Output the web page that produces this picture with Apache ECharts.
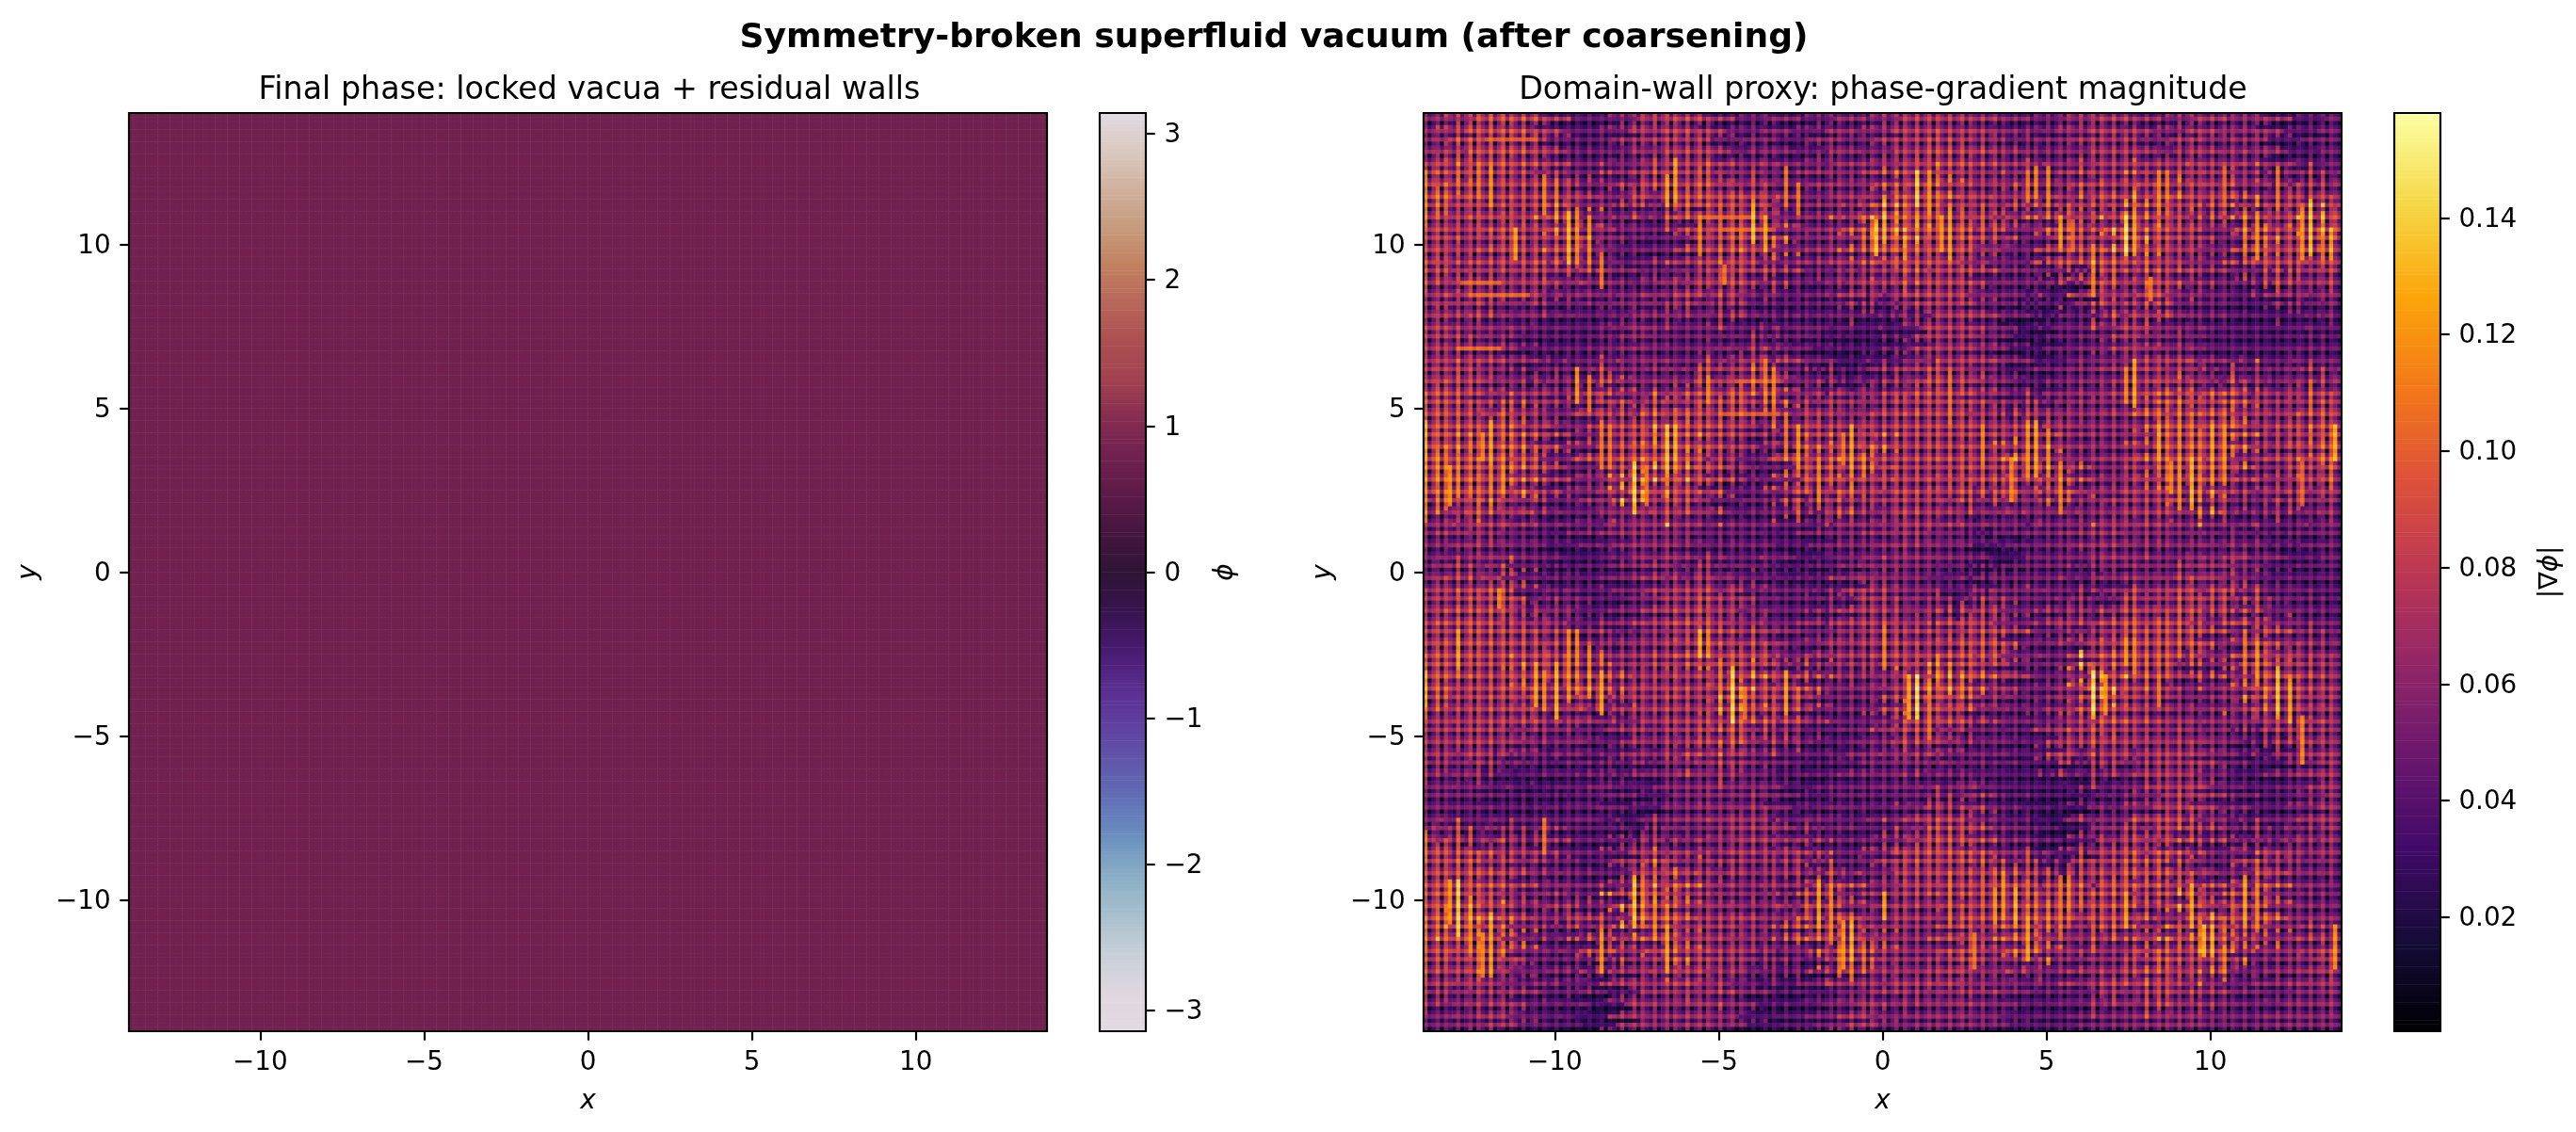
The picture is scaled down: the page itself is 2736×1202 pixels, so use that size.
<!DOCTYPE html>
<html>
<head>
<meta charset="utf-8">
<style>html,body{margin:0;padding:0;background:#fff}#chart{width:2736px;height:1202px}</style>
<script src="https://cdn.jsdelivr.net/npm/echarts@6/dist/echarts.min.js"></script>
</head>
<body>
<div id="chart"></div>
<script>
// Lattice: 224 cells per side, 8 cells per unit of x or y.
const cellCount = 224;
const cellsPerUnit = 8;

// Tick labels
const positionTicks = [-10, -5, 0, 5, 10];
const phaseTicks = [-3, -2, -1, 0, 1, 2, 3];
const gradientTicks = [0.02, 0.04, 0.06, 0.08, 0.10, 0.12, 0.14];

// Colour scale ranges
const phaseRange = [-Math.PI, Math.PI];
const gradientRange = [0.0004, 0.158];

const twilightStops = ['#e2d9e2','#dfd6e0','#c8d0d8','#a8c0ce','#8bb0c6','#6d93c0','#6172b8','#6158ab','#60409f','#5a2d90','#481a6f','#38134f','#2f1436','#44163f','#5c1a48','#70204f','#862b52','#a0424f','#ab4f51','#b8655a','#c1805f','#c79b7c','#cfb09c','#dac9bf','#e2d9e2'];
const infernoStops = ['#000004','#160b39','#420a68','#6a176e','#932667','#bc3754','#dd513a','#f37819','#fca50a','#f6d746','#fcffa4'];

// Final phase: almost uniform, with a faint weave within each unit cell.
const phaseBase = 0.80;
const phaseColWeave = [0.004, -0.002, 0.001, 0.003, -0.003, 0.002, 0.001, -0.004];
const phaseRowWeave = [0.001, 0.003, -0.003, 0.001, 0.003, -0.003, 0.002, -0.002];

// Strength of the x and y derivative inside one unit cell, by column and by row (from the top).
const colWeave = [1.00, 0.14, 0.60, 0.95, 0.08, 0.92, 0.58, 0.30];
const rowWeave = [0.60, 0.92, 0.10, 0.55, 0.95, 0.30, 0.90, 0.14];

// Wall outlines are jagged, so the edge of each unit cell steps by a few cells along the lattice.
const rowEdgeJog = [-4, 1, 3, -2, 5, -1, 2, -5, 4, 0, -3, 2, -2];
const colEdgeJog = [3, -4, 1, 5, -2, -5, 2, 4, -1, -3, 0];

// Gradient level of each unit cell in thousandths, rows from y=14 down, columns from x=-14.
const wallLevels = [
[50,70,72,62,36,36,58,66,58,36,48,34,52,42, 62,62,60,50,38,50,62,56,42,60,48,55,30,44],
[62,74,72,62,44,42,50,62,64,52,48,42,55,48, 62,70,68,58,50,48,60,62,58,60,58,52,34,44],
[80,72,66,68,62,46,66,72,76,70,62,44,56,52, 76,82,62,56,70,55,72,62,82,66,74,52,64,64],
[66,62,72,62,85,52,44,42,70,76,84,46,50,78, 92,78,76,70,46,78,60,90,72,64,46,84,66,92],
[70,60,68,66,72,50,36,44,60,70,66,46,56,60, 76,68,70,50,40,66,72,76,66,60,46,70,68,68],
[56,68,58,60,45,50,46,58,64,62,45,36,42,60, 54,66,64,42,44,30,72,56,70,48,42,34,54,50],
[62,52,46,40,36,38,52,42,44,40,34,42,38,32, 32,62,60,44,24,40,44,64,48,40,36,32,34,36],
[60,64,54,34,40,44,50,44,44,58,62,42,28,30, 46,60,60,48,28,40,46,58,62,52,38,38,42,44],
[72,66,50,58,50,72,48,56,72,72,80,46,58,48, 62,72,68,50,36,48,52,62,78,62,76,58,54,66],
[72,70,76,60,44,64,68,78,70,64,52,66,62,60, 66,66,68,60,66,58,54,54,80,78,82,60,66,74],
[84,76,82,72,42,70,74,88,72,58,38,80,66,84, 64,68,70,62,86,56,48,56,78,82,84,50,66,80],
[80,76,84,62,42,58,92,70,70,36,48,72,76,62, 68,62,72,70,60,76,50,62,64,86,62,54,64,60],
[52,62,56,42,38,50,56,56,50,44,40,36,52,48, 60,60,48,44,46,46,54,60,54,50,42,38,42,46],
[44,52,46,42,30,38,52,52,40,40,44,30,42,46, 52,48,44,26,40,46,56,50,46,48,56,48,32,42],
[60,66,72,36,42,34,44,60,62,60,38,40,34,62, 50,46,34,48,44,42,36,52,58,66,68,44,38,36],
[64,72,70,58,50,36,48,62,70,60,50,42,54,62, 64,56,68,64,42,58,58,70,72,72,50,70,46,44],
[72,70,68,68,64,52,56,60,74,70,66,42,58,60, 68,62,72,72,42,42,66,78,74,74,46,76,60,56],
[76,66,70,84,84,76,62,68,62,88,68,74,46,48, 60,88,80,58,40,52,92,70,60,44,54,84,70,62],
[60,64,66,58,56,42,60,62,60,76,68,54,40,42, 70,70,62,44,42,56,74,64,56,52,50,60,66,56],
[58,62,58,42,46,36,54,50,68,60,46,38,34,50, 50,60,40,44,34,64,62,62,62,62,46,30,50,60],
[46,44,34,30,36,46,34,48,50,48,44,30,40,42, 44,40,48,36,32,30,36,42,60,60,40,34,40,56],
[44,40,38,40,38,42,28,44,52,58,56,38,46,36, 44,62,66,44,34,24,50,46,66,68,50,34,42,58],
[68,72,58,60,40,34,58,60,48,62,58,62,40,42, 66,72,72,52,42,30,62,66,74,46,40,62,56,54],
[70,74,66,44,46,38,66,82,60,50,54,44,72,46, 62,66,66,74,68,66,70,76,64,72,50,76,48,44],
[78,90,66,52,62,46,88,76,56,62,50,74,76,50, 60,56,72,70,80,78,70,76,52,88,72,80,50,52],
[70,76,82,44,38,70,52,82,62,60,56,46,80,78, 54,50,70,56,82,54,52,54,76,66,82,52,52,66],
[60,62,56,40,50,34,60,56,66,50,38,30,44,56, 58,60,62,50,44,42,60,66,70,62,50,38,50,56],
[44,48,58,38,34,24,56,50,56,50,28,34,44,60, 44,50,52,46,34,36,44,48,52,52,44,44,50,48]
];

// Bright vertical wall streaks: column, first row, last row, level in thousandths.
const verticalWalls = [
[35,24,36,130],[37,23,36,115],[40,25,36,115],[29,15,24,115],[32,16,26,110],[16,13,22,120],[13,12,20,110],[22,28,35,125],
[59,15,22,125],[61,11,21,125],[80,23,31,135],[83,25,33,125],[67,25,34,115],[110,26,34,135],[91,17,24,110],[88,13,22,110],
[0,14,24,115],[43,34,42,110],[73,37,41,110],[37,62,70,120],[40,64,72,110],[83,60,70,110],[85,62,71,115],[69,64,70,115],
[43,75,86,110],[45,76,86,110],[59,76,87,135],[61,76,84,130],[51,85,95,140],[54,86,95,110],[16,75,85,125],[14,78,84,115],
[0,75,83,130],[19,86,92,120],[6,86,95,120],[8,87,93,115],[91,76,85,120],[88,73,82,110],[104,76,86,125],[102,78,85,110],[96,84,94,115],
[120,14,22,140],[123,14,24,120],[126,25,33,120],[128,23,35,125],[112,25,31,130],[147,14,21,110],[149,13,20,115],[152,13,22,115],
[155,25,32,125],[158,26,33,105],[171,25,34,145],[173,25,34,125],[179,14,24,115],[181,14,20,110],[195,13,21,105],[200,24,34,110],
[203,25,35,120],[208,13,23,110],[214,23,35,120],[216,22,34,135],[219,24,35,110],[163,32,44,115],[177,40,45,110],
[147,76,88,120],[149,75,88,125],[152,77,88,115],[173,60,71,125],[171,62,70,115],[179,76,84,125],[192,76,84,125],[195,76,86,120],
[187,84,95,130],[184,84,96,115],[182,85,92,115],[222,76,84,130],[216,65,72,105],[155,85,96,115],[143,84,94,115],[128,63,75,110],[136,76,85,115],[214,85,95,105],
[27,134,144,125],[29,136,145,115],[32,135,147,130],[43,136,146,125],[75,135,148,140],[72,133,146,110],[78,140,147,110],[88,136,146,125],
[67,126,132,130],[69,126,132,115],[18,116,120,115],[8,126,135,125],[0,136,144,130],[35,126,136,115],[37,126,133,115],[40,130,140,115],
[8,187,200,140],[6,187,197,120],[11,192,204,115],[16,195,210,125],[14,200,210,115],[51,186,197,135],[53,186,194,110],[43,199,209,120],
[56,192,200,115],[59,198,208,125],[96,187,198,125],[99,188,200,115],[102,197,208,120],[104,197,206,130],[0,175,182,110],[29,172,180,110],
[120,137,147,145],[118,137,147,125],[123,142,152,110],[141,185,196,120],[144,189,197,130],[139,189,197,120],[147,196,206,125],[163,136,146,145],
[166,137,146,120],[171,128,134,120],[173,128,136,115],[187,188,197,125],[190,198,205,130],[192,198,205,130],[208,135,146,135],[211,138,148,125],
[214,147,158,115],[200,126,136,110],[203,129,138,120],[200,186,197,125],[203,188,198,115],[171,190,198,125],[155,186,196,110],[157,186,194,115],
[179,138,144,110],[112,125,135,115],[112,190,196,125],[222,198,208,120],[134,200,208,110],[128,185,197,110]
];

// Bright horizontal wall runs: row, first column, last column, level in thousandths.
const horizontalWalls = [
[41,9,18,105],[44,11,25,105],[57,8,18,105],[25,68,80,105],[28,72,84,105],[6,15,27,100],[65,76,84,100],[73,72,86,100]
];

const clampIndex = i => Math.min(27, Math.max(0, i));

// Gradient magnitude combines the x and y derivative strengths of each cell;
// vertical stripes lead where the level is high, horizontal ones where it is low.
const gradientGrid = [];
for (let row = 0; row < cellCount; row++) {
  const line = [];
  for (let col = 0; col < cellCount; col++) {
    const r = clampIndex(Math.floor((row + rowEdgeJog[col % rowEdgeJog.length]) / cellsPerUnit));
    const c = clampIndex(Math.floor((col + colEdgeJog[row % colEdgeJog.length]) / cellsPerUnit));
    const level = wallLevels[r][c];
    const dx = colWeave[col % cellsPerUnit] * (0.7 + level / 200);
    const dy = rowWeave[row % cellsPerUnit] * (1.3 - level / 170);
    line.push(1.15 * level * Math.hypot(dx, dy));
  }
  gradientGrid.push(line);
}
for (const [col, first, last, level] of verticalWalls) {
  for (let row = first; row <= last; row++) {
    gradientGrid[row][col] = Math.max(gradientGrid[row][col], level * (0.9 + 0.15 * rowWeave[row % cellsPerUnit]));
  }
}
for (const [row, first, last, level] of horizontalWalls) {
  for (let col = first; col <= last; col++) {
    gradientGrid[row][col] = Math.max(gradientGrid[row][col], level * (0.9 + 0.15 * colWeave[col % cellsPerUnit]));
  }
}

const phaseData = [];
const gradientData = [];
for (let row = 0; row < cellCount; row++) {
  for (let col = 0; col < cellCount; col++) {
    phaseData.push([col, row, phaseBase + phaseColWeave[col % cellsPerUnit] + phaseRowWeave[row % cellsPerUnit]]);
    const v = gradientGrid[row][col] / 1000;
    gradientData.push([col, row, Math.min(gradientRange[1], Math.max(gradientRange[0], v))]);
  }
}

const cellLabels = Array.from({length: cellCount}, (_, i) => String(i));

// Colour bars are ramps of 256 levels across their range, lowest level first.
const rampSize = 256;
const rampLabels = Array.from({length: rampSize}, (_, i) => String(i));
const ramp = range => rampLabels.map((_, i) => [0, i, range[0] + (i + 0.5) * (range[1] - range[0]) / rampSize]);

const FONT = '"DejaVu Sans"';
const TICK_SIZE = 27.8;
const SPINE = 2.2;
const TICK_LEN = 9.7;
const PANEL = {top: 120, size: 975};
const LEFT_PANEL_X = 137, RIGHT_PANEL_X = 1512;
const LEFT_BAR_X = 1168, RIGHT_BAR_X = 2543, BAR_W = 49;

const minus = v => String(v).replace('-', '\u2212');
// Labels beside vertical axes sit slightly below the tick centre.
const lowered = fmt => v => '{t|' + fmt(v) + '}';
const loweredRich = {t: {fontFamily: '"DejaVu Sans"', fontSize: 27.8, color: '#000', padding: [4, 0, 0, 0]}};
const frame = (left, width) => ({
  left, top: PANEL.top, width, height: PANEL.size, show: true, z: 5,
  backgroundColor: 'transparent', borderColor: '#000', borderWidth: SPINE
});
const tickStyle = {show: true, length: TICK_LEN, lineStyle: {color: '#000', width: SPINE}};
const labelStyle = {fontFamily: FONT, fontSize: TICK_SIZE, color: '#000'};
const axisNameStyle = {fontFamily: FONT, fontSize: TICK_SIZE, fontStyle: 'italic', color: '#000'};

// Each panel has hidden band axes for the cells and visible value axes for the scale.
function panelAxes(gridIndex) {
  const band = {type: 'category', data: cellLabels, gridIndex, show: false};
  const common = {
    type: 'value', gridIndex, min: -14, max: 14, splitLine: {show: false},
    axisLine: {show: false},
    axisTick: Object.assign({customValues: positionTicks}, tickStyle),
    axisLabel: Object.assign({customValues: positionTicks, margin: 19.4, formatter: minus}, labelStyle),
    nameLocation: 'middle', nameTextStyle: axisNameStyle
  };
  return {
    x: [band, Object.assign({}, common, {position: 'bottom', name: 'x', nameGap: 61})],
    y: [Object.assign({}, band, {inverse: true}), Object.assign({}, common, {
      position: 'left', name: 'y', nameGap: 92, nameRotate: 90,
      axisLabel: Object.assign({}, common.axisLabel, {formatter: lowered(minus), rich: loweredRich})
    })]
  };
}
const leftAxes = panelAxes(0);
const rightAxes = panelAxes(1);

function barAxes(gridIndex, range, ticks, fmt, name, nameGap, rich) {
  return {
    x: {type: 'category', data: ['0'], gridIndex, show: false},
    yBand: {type: 'category', data: rampLabels, gridIndex, show: false},
    y: {
      type: 'value', gridIndex, min: range[0], max: range[1], position: 'right', splitLine: {show: false},
      axisLine: {show: false},
      axisTick: Object.assign({customValues: ticks}, tickStyle),
      axisLabel: Object.assign({customValues: ticks, margin: 19.4, formatter: lowered(fmt), rich: loweredRich}, labelStyle),
      name, nameLocation: 'middle', nameGap, nameRotate: 90,
      nameTextStyle: Object.assign({}, axisNameStyle, rich ? {rich} : {})
    }
  };
}
const phaseBar = barAxes(2, phaseRange, phaseTicks, minus, '\u03d5', 71);
const gradientBar = barAxes(3, gradientRange, gradientTicks, v => v.toFixed(2), '{n||\u2207}{i|\u03d5}{n||}', 103, {
  n: {fontFamily: FONT, fontSize: TICK_SIZE, color: '#000'},
  i: {fontFamily: FONT, fontSize: TICK_SIZE, fontStyle: 'italic', color: '#000'}
});

const chart = echarts.init(document.getElementById('chart'), null, {renderer: 'canvas', width: 2736, height: 1202});
const titleBase = {textAlign: 'center', textVerticalAlign: 'middle'};
chart.setOption({
  animation: false,
  backgroundColor: '#fff',
  title: [
    Object.assign({}, titleBase, {text: 'Symmetry-broken superfluid vacuum (after coarsening)', left: 1348, top: 36, textStyle: {fontFamily: FONT, fontSize: 36.1, fontWeight: 'bold', color: '#000'}}),
    Object.assign({}, titleBase, {text: 'Final phase: locked vacua + residual walls', left: 621, top: 91, textStyle: {fontFamily: FONT, fontSize: 33.3, fontWeight: 'normal', color: '#000'}}),
    Object.assign({}, titleBase, {text: 'Domain-wall proxy: phase-gradient magnitude', left: 1995, top: 91, textStyle: {fontFamily: FONT, fontSize: 33.3, fontWeight: 'normal', color: '#000'}})
  ],
  grid: [
    frame(LEFT_PANEL_X, PANEL.size),
    frame(RIGHT_PANEL_X, PANEL.size),
    frame(LEFT_BAR_X, BAR_W),
    frame(RIGHT_BAR_X, BAR_W)
  ],
  xAxis: [...leftAxes.x, ...rightAxes.x, phaseBar.x, gradientBar.x],
  yAxis: [...leftAxes.y, ...rightAxes.y, phaseBar.yBand, phaseBar.y, gradientBar.yBand, gradientBar.y],
  visualMap: [
    {type: 'continuous', show: false, seriesIndex: [0, 2], dimension: 2, min: phaseRange[0], max: phaseRange[1], inRange: {color: twilightStops}},
    {type: 'continuous', show: false, seriesIndex: [1, 3], dimension: 2, min: gradientRange[0], max: gradientRange[1], inRange: {color: infernoStops}}
  ],
  series: [
    {type: 'heatmap', xAxisIndex: 0, yAxisIndex: 0, data: phaseData, progressive: 0, silent: true, animation: false},
    {type: 'heatmap', xAxisIndex: 2, yAxisIndex: 2, data: gradientData, progressive: 0, silent: true, animation: false},
    {type: 'heatmap', xAxisIndex: 4, yAxisIndex: 4, data: ramp(phaseRange), progressive: 0, silent: true, animation: false},
    {type: 'heatmap', xAxisIndex: 5, yAxisIndex: 6, data: ramp(gradientRange), progressive: 0, silent: true, animation: false}
  ]
});
</script>
</body>
</html>
